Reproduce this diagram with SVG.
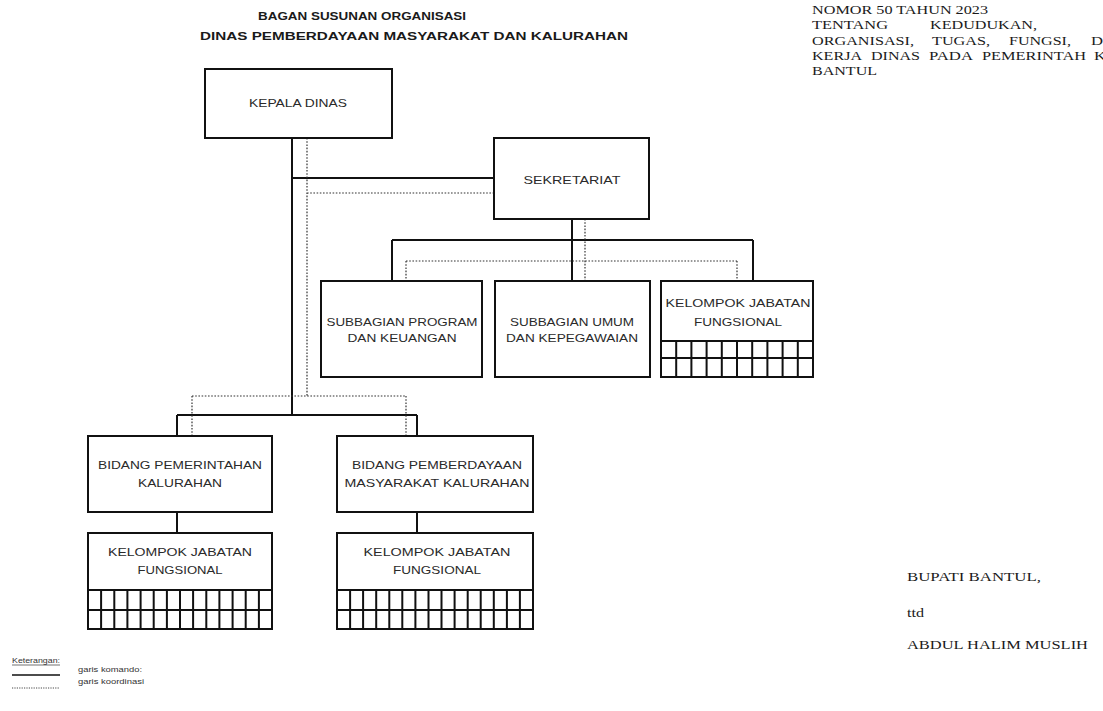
<svg xmlns="http://www.w3.org/2000/svg" width="1103" height="711" viewBox="0 0 1103 711">
<style>
.box{fill:#fff;stroke:#111;stroke-width:2}
.grid{fill:none;stroke:#111;stroke-width:2}
.sol{fill:none;stroke:#111;stroke-width:2}
.dot{fill:none;stroke:#333;stroke-width:1.2;stroke-dasharray:1.6 1.6}
.t{font-family:"Liberation Sans",Arial,sans-serif;font-size:10.5px;fill:#2a2a2a;text-anchor:middle}
.title{font-family:"Liberation Sans",Arial,sans-serif;font-size:11.5px;font-weight:bold;fill:#1a1a1a;text-anchor:middle}
.s{font-family:"Liberation Serif","Times New Roman",serif;font-size:13px;fill:#1a1a1a}
.leg{font-family:"Liberation Sans",Arial,sans-serif;font-size:8px;fill:#333}
</style>
<rect width="1103" height="711" fill="#fff"/>

<g id="title">
<text class="title" x="362" y="20" textLength="208" lengthAdjust="spacingAndGlyphs">BAGAN SUSUNAN ORGANISASI</text>
<text class="title" x="414" y="40" textLength="428" lengthAdjust="spacingAndGlyphs">DINAS PEMBERDAYAAN MASYARAKAT DAN KALURAHAN</text>
</g>

<g id="header-text">
<text class="s" x="812" y="13.5" textLength="176" lengthAdjust="spacingAndGlyphs">NOMOR 50 TAHUN 2023</text>
<text class="s" x="812" y="28.5" textLength="76" lengthAdjust="spacingAndGlyphs">TENTANG</text>
<text class="s" x="930" y="28.5" textLength="107" lengthAdjust="spacingAndGlyphs">KEDUDUKAN,</text>
<text class="s" x="812" y="44.5" textLength="102" lengthAdjust="spacingAndGlyphs">ORGANISASI,</text>
<text class="s" x="932" y="44.5" textLength="58" lengthAdjust="spacingAndGlyphs">TUGAS,</text>
<text class="s" x="1009" y="44.5" textLength="62" lengthAdjust="spacingAndGlyphs">FUNGSI,</text>
<text class="s" x="1091" y="44.5" textLength="12" lengthAdjust="spacingAndGlyphs">D</text>
<text class="s" x="812" y="59.5" textLength="50" lengthAdjust="spacingAndGlyphs">KERJA</text>
<text class="s" x="871" y="59.5" textLength="49" lengthAdjust="spacingAndGlyphs">DINAS</text>
<text class="s" x="929" y="59.5" textLength="44" lengthAdjust="spacingAndGlyphs">PADA</text>
<text class="s" x="982" y="59.5" textLength="104" lengthAdjust="spacingAndGlyphs">PEMERINTAH</text>
<text class="s" x="1094" y="59.5" textLength="12" lengthAdjust="spacingAndGlyphs">K</text>
<text class="s" x="812" y="75" textLength="65" lengthAdjust="spacingAndGlyphs">BANTUL</text>
</g>

<g id="connectors">
<path class="sol" d="M292 138 V415 M292 178 H494 M572 219 V240 M392 240 H753 M392 240 V281 M572 240 V281 M753 240 V281 M177 415 H417 M177 415 V436 M417 415 V436 M177 512 V533 M417 512 V533"/>
<path class="dot" d="M307 138 V396 M307 193 H494 M585 219 V281 M406 261 H737 M406 261 V281 M737 261 V281 M192 396 H406 M192 396 V436 M406 396 V436"/>
</g>

<g id="kepala-dinas">
<rect class="box" x="205" y="69" width="187" height="69"/>
<text class="t" x="298" y="107" textLength="98" lengthAdjust="spacingAndGlyphs">KEPALA DINAS</text>
</g>

<g id="sekretariat">
<rect class="box" x="494" y="138" width="155" height="81"/>
<text class="t" x="572" y="184" textLength="97" lengthAdjust="spacingAndGlyphs">SEKRETARIAT</text>
</g>

<g id="subbagian-program">
<rect class="box" x="321" y="281" width="161" height="96"/>
<text class="t" x="402" y="326" textLength="151" lengthAdjust="spacingAndGlyphs">SUBBAGIAN PROGRAM</text>
<text class="t" x="402" y="342" textLength="109" lengthAdjust="spacingAndGlyphs">DAN KEUANGAN</text>
</g>

<g id="subbagian-umum">
<rect class="box" x="495" y="281" width="155" height="96"/>
<text class="t" x="572" y="326" textLength="124" lengthAdjust="spacingAndGlyphs">SUBBAGIAN UMUM</text>
<text class="t" x="572" y="342" textLength="132" lengthAdjust="spacingAndGlyphs">DAN KEPEGAWAIAN</text>
</g>

<g id="kelompok-sekretariat">
<rect class="box" x="661" y="281" width="152" height="96"/>
<text class="t" x="738" y="307" textLength="145" lengthAdjust="spacingAndGlyphs">KELOMPOK JABATAN</text>
<text class="t" x="738" y="326" textLength="88" lengthAdjust="spacingAndGlyphs">FUNGSIONAL</text>
<path class="grid" d="M661 341 H813 M661 358 H813 M676.2 341 V377 M691.4 341 V377 M706.6 341 V377 M721.8 341 V377 M737 341 V377 M752.2 341 V377 M767.4 341 V377 M782.6 341 V377 M797.8 341 V377"/>
</g>

<g id="bidang-pemerintahan">
<rect class="box" x="88" y="436" width="184" height="76"/>
<text class="t" x="180" y="469" textLength="164" lengthAdjust="spacingAndGlyphs">BIDANG PEMERINTAHAN</text>
<text class="t" x="180" y="487" textLength="84" lengthAdjust="spacingAndGlyphs">KALURAHAN</text>
</g>

<g id="bidang-pemberdayaan">
<rect class="box" x="337" y="436" width="196" height="76"/>
<text class="t" x="437" y="469" textLength="170" lengthAdjust="spacingAndGlyphs">BIDANG PEMBERDAYAAN</text>
<text class="t" x="437" y="487" textLength="185" lengthAdjust="spacingAndGlyphs">MASYARAKAT KALURAHAN</text>
</g>

<g id="kelompok-pemerintahan">
<rect class="box" x="88" y="533" width="184" height="96"/>
<text class="t" x="180" y="556" textLength="144" lengthAdjust="spacingAndGlyphs">KELOMPOK JABATAN</text>
<text class="t" x="180" y="574" textLength="85" lengthAdjust="spacingAndGlyphs">FUNGSIONAL</text>
<path class="grid" d="M88 590 H272 M88 610 H272 M101.1 590 V629 M114.3 590 V629 M127.4 590 V629 M140.6 590 V629 M153.7 590 V629 M166.9 590 V629 M180 590 V629 M193.1 590 V629 M206.3 590 V629 M219.4 590 V629 M232.6 590 V629 M245.7 590 V629 M258.9 590 V629"/>
</g>

<g id="kelompok-pemberdayaan">
<rect class="box" x="337" y="533" width="196" height="96"/>
<text class="t" x="437" y="556" textLength="147" lengthAdjust="spacingAndGlyphs">KELOMPOK JABATAN</text>
<text class="t" x="437" y="574" textLength="88" lengthAdjust="spacingAndGlyphs">FUNGSIONAL</text>
<path class="grid" d="M337 590 H533 M337 610 H533 M350.1 590 V629 M363.1 590 V629 M376.2 590 V629 M389.3 590 V629 M402.3 590 V629 M415.4 590 V629 M428.5 590 V629 M441.5 590 V629 M454.6 590 V629 M467.7 590 V629 M480.7 590 V629 M493.8 590 V629 M506.9 590 V629 M519.9 590 V629"/>
</g>

<g id="signature">
<text class="s" x="907" y="581" textLength="134" lengthAdjust="spacingAndGlyphs">BUPATI BANTUL,</text>
<text class="s" x="907" y="617" textLength="17" lengthAdjust="spacingAndGlyphs">ttd</text>
<text class="s" x="907" y="649" textLength="181" lengthAdjust="spacingAndGlyphs">ABDUL HALIM MUSLIH</text>
</g>

<g id="legend">
<text class="leg" x="12" y="663" textLength="48" lengthAdjust="spacingAndGlyphs">Keterangan:</text>
<path d="M12 665 H60" stroke="#333" stroke-width="0.7"/>
<text class="leg" x="78" y="672" textLength="64" lengthAdjust="spacingAndGlyphs">garis komando:</text>
<path d="M12 675 H60" stroke="#111" stroke-width="1.3"/>
<text class="leg" x="78" y="684" textLength="66" lengthAdjust="spacingAndGlyphs">garis koordinasi</text>
<path d="M12 688 H60" stroke="#333" stroke-width="0.9" stroke-dasharray="1.2 1.2"/>
</g>
</svg>
